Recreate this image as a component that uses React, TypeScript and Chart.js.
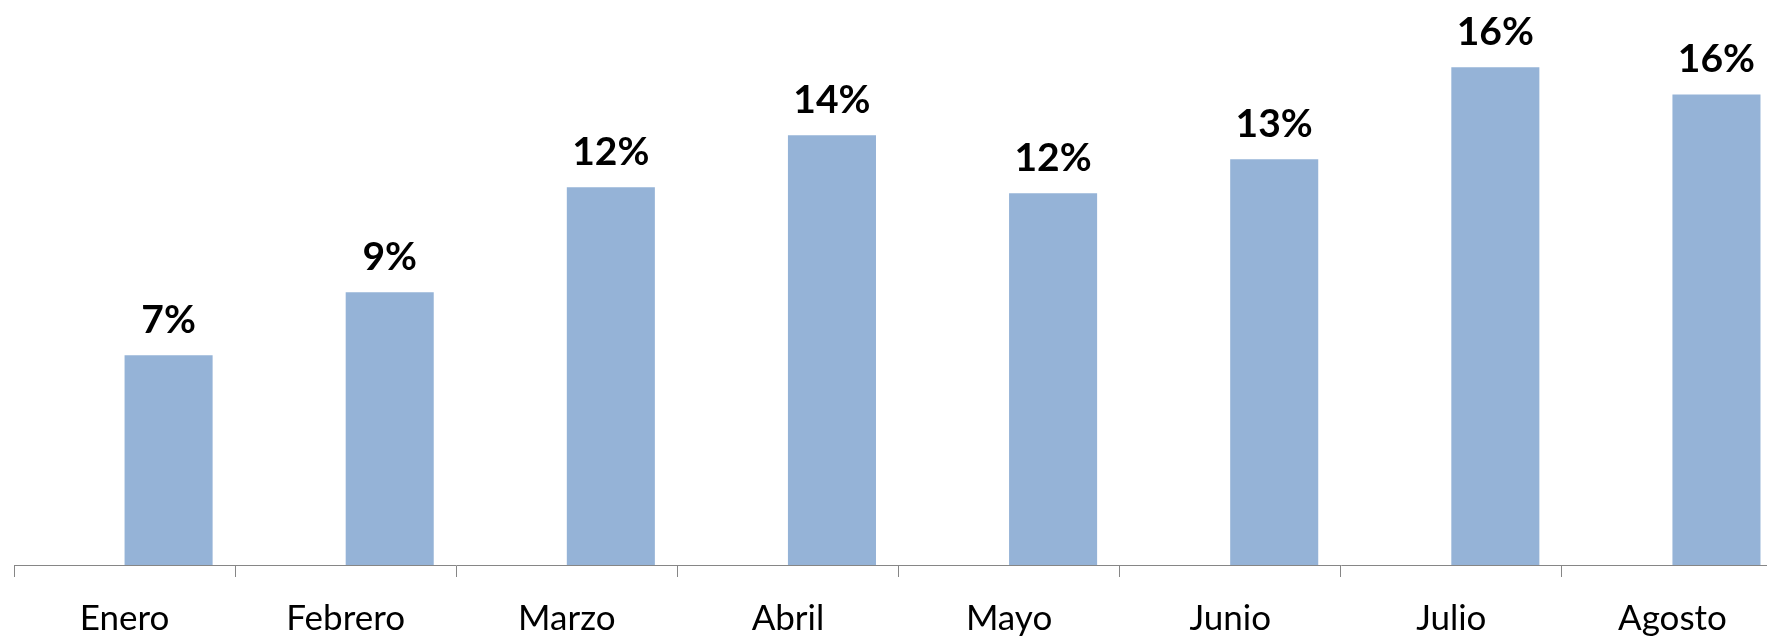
import React, { useEffect, useRef } from "react";
import { Chart, registerables } from "chart.js";

Chart.register(...registerables);

const categories = ["Enero", "Febrero", "Marzo", "Abril", "Mayo", "Junio", "Julio", "Agosto"];
const emptySeries = [null, null, null, null, null, null, null, null];
const values = [6.93, 9.01, 12.48, 14.19, 12.28, 13.4, 16.44, 15.54];
const valueLabels = values.map((v) => Math.round(v) + "%");

const labelPlugin = {
  id: "barLabels",
  afterDatasetsDraw(chart: any) {
    const ctx = chart.ctx;
    const meta = chart.getDatasetMeta(1);
    ctx.save();
    ctx.font = "bold 39px Lato";
    ctx.fillStyle = "#000000";
    ctx.textAlign = "center";
    ctx.textBaseline = "alphabetic";
    meta.data.forEach((el: any, i: number) => {
      ctx.fillText(valueLabels[i], el.x, el.y - 22);
    });
    ctx.restore();
  },
};

export default function App() {
  const ref = useRef<HTMLCanvasElement>(null);
  useEffect(() => {
    if (!ref.current) return;
    const chart = new Chart(ref.current, {
      type: "bar",
      data: {
        labels: categories,
        datasets: [
          { label: "a", data: emptySeries as any, backgroundColor: "#95B3D7" },
          { label: "b", data: values, backgroundColor: "#95B3D7" },
        ],
      },
      options: {
        responsive: false,
        animation: false,
        categoryPercentage: 0.7964,
        barPercentage: 1,
        layout: { padding: { left: 14, right: 17, top: 20, bottom: 0 } },
        plugins: { legend: { display: false }, tooltip: { enabled: false } },
        scales: {
          y: { display: false, min: 0, max: 18 },
          x: {
            offset: true,
            afterFit: (scale: any) => {
              scale.height = 71;
            },
            grid: {
              offset: true,
              drawOnChartArea: false,
              drawTicks: true,
              tickLength: 12,
              color: "#868686",
              tickColor: "#868686",
            },
            border: { display: true, color: "#868686", width: 1 },
            ticks: {
              color: "#000000",
              font: { family: "Lato", size: 35 },
              padding: 21,
              maxRotation: 0,
              autoSkip: false,
            },
          },
        },
      },
      plugins: [labelPlugin],
    } as any);
    return () => chart.destroy();
  }, []);
  return (
    <div style={{ position: "fixed", left: 0, top: 0, width: 1767, height: 636, overflow: "hidden", background: "#fff" }}>
      <canvas ref={ref} width={1800} height={636} style={{ display: "block" }} />
    </div>
  );
}
